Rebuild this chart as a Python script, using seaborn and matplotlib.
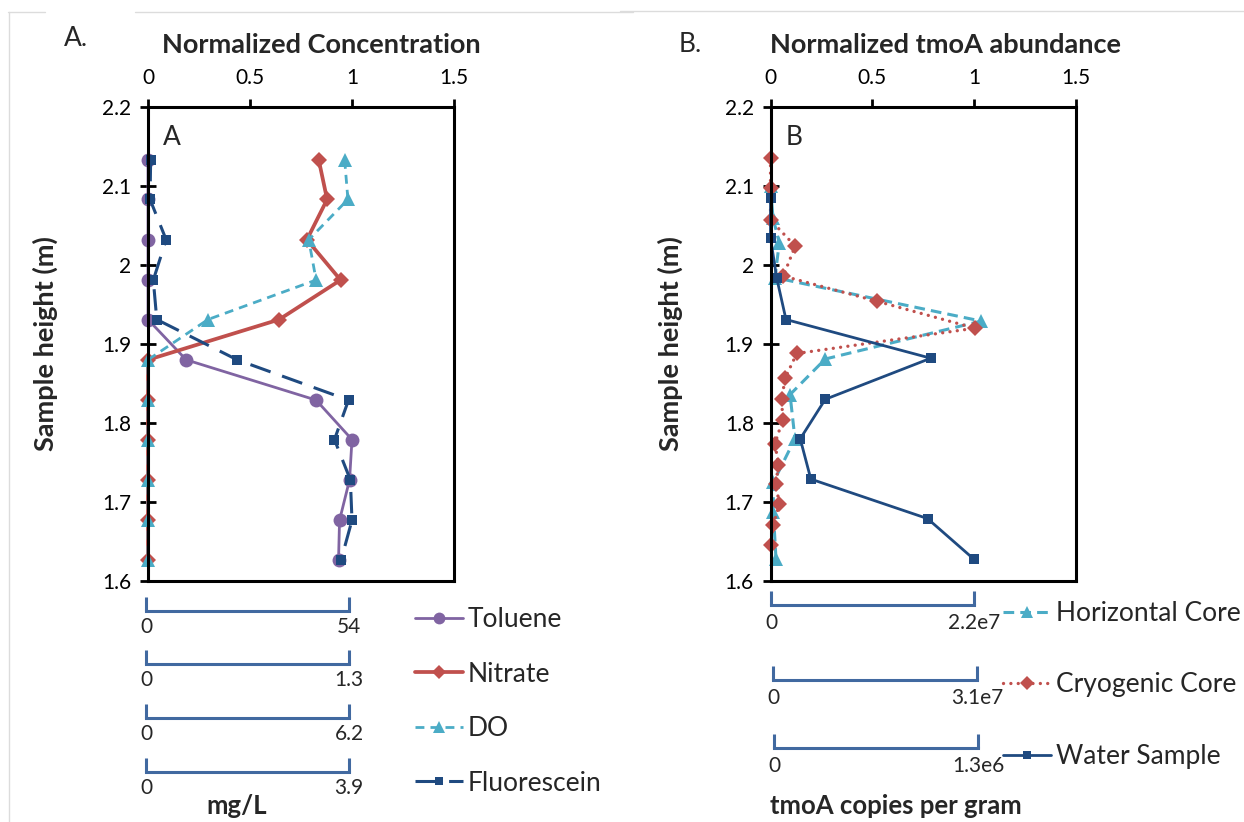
import matplotlib
matplotlib.use("Agg")
import matplotlib.pyplot as plt
import seaborn as sns
from matplotlib.lines import Line2D

# ---- Panel A: normalized concentration profiles ----
heights_a = [2.133, 2.083, 2.032, 1.981, 1.931, 1.880, 1.829, 1.779, 1.728, 1.677, 1.627]
toluene = [0.0, 0.0, 0.0, 0.0, 0.0, 0.187, 0.824, 1.0, 0.988, 0.939, 0.934]
nitrate = [0.837, 0.878, 0.779, 0.944, 0.643, 0.0, 0.0, 0.0, 0.0, 0.0, 0.0]
dissolved_oxygen = [0.964, 0.980, 0.788, 0.824, 0.294, 0.0, 0.0, 0.0, 0.0, 0.0, 0.0]
fluorescein = [0.013, 0.010, 0.089, 0.026, 0.043, 0.437, 0.983, 0.914, 0.992, 1.0, 0.947]

# ---- Panel B: normalized tmoA abundance ----
horizontal_h = [2.100, 2.060, 2.028, 1.984, 1.929, 1.881, 1.836, 1.780, 1.725, 1.687, 1.628]
horizontal_v = [0.0, 0.012, 0.043, 0.022, 1.034, 0.269, 0.096, 0.120, 0.014, 0.014, 0.027]
cryogenic_h = [2.135, 2.097, 2.057, 2.024, 1.986, 1.954, 1.920, 1.888, 1.857, 1.830,
               1.804, 1.774, 1.747, 1.723, 1.697, 1.671, 1.645]
cryogenic_v = [0.0, 0.0, 0.0, 0.121, 0.063, 0.524, 1.004, 0.129, 0.072, 0.055,
               0.060, 0.022, 0.039, 0.027, 0.043, 0.014, 0.0]
water_h = [2.085, 2.034, 1.983, 1.931, 1.882, 1.830, 1.780, 1.729, 1.679, 1.628]
water_v = [0.0, 0.0, 0.031, 0.076, 0.787, 0.269, 0.146, 0.198, 0.771, 0.997]

# axis ticks
x_ticks = [0, 0.5, 1, 1.5]
x_tick_labels = ["0", "0.5", "1", "1.5"]
y_ticks = [1.6, 1.7, 1.8, 1.9, 2.0, 2.1, 2.2]
y_tick_labels = ["1.6", "1.7", "1.8", "1.9", "2", "2.1", "2.2"]

# absolute scales behind the normalized axes
conc_scale_max = ["54", "1.3", "6.2", "3.9"]
copies_scale_max = ["2.2e7", "3.1e7", "1.3e6"]

W, H = 1244, 822
sns.set_style("ticks")
plt.rcParams["font.family"] = ["Lato", "DejaVu Sans"]

PURPLE = "#8064A2"
RED = "#C0504D"
CYAN = "#4BACC6"
NAVY = "#1F4A80"
SCALE_BLUE = "#4169A0"

TITLE_FS = 19.5
TICK_FS = 15
LEGEND_FS = 19

fig = plt.figure(figsize=(W / 100, H / 100), dpi=100)


def rect(left, top, right, bottom):
    return [left / W, 1 - bottom / H, (right - left) / W, (bottom - top) / H]


def ftext(x, y, s, **kw):
    kw.setdefault("va", "center")
    fig.text(x / W, 1 - y / H, s, **kw)


def style_profile(ax, label_x):
    ax.set_xlim(0, 1.5)
    ax.set_ylim(1.6, 2.2)
    ax.set_xticks(x_ticks)
    ax.set_xticklabels(x_tick_labels)
    ax.set_yticks(y_ticks)
    ax.set_yticklabels(y_tick_labels)
    ax.xaxis.tick_top()
    ax.tick_params(axis="x", direction="out", length=6, width=2, pad=8,
                   labelsize=TICK_FS, top=True, bottom=False, colors="black")
    ax.tick_params(axis="y", direction="inout", length=12, width=2, pad=6,
                   labelsize=TICK_FS, colors="black")
    for sp in ax.spines.values():
        sp.set_visible(True)
        sp.set_linewidth(2.2)
        sp.set_color("black")
    ax.set_xlabel("")
    ax.set_ylabel("Sample height (m)", fontsize=TITLE_FS, fontweight="bold")
    ax.yaxis.set_label_coords(label_x, 0.5)


def profile(ax, x, y, label, color, marker, ms, lw, ls, **extra):
    sns.lineplot(x=x, y=y, ax=ax, sort=False, estimator=None, color=color,
                 marker=marker, markersize=ms, linewidth=lw, linestyle=ls,
                 markeredgecolor=color, markeredgewidth=0, label=label,
                 legend=False, clip_on=False, **extra)


def scale_bar(left, right, line_y, label, pad):
    ax = fig.add_axes(rect(left, line_y - 20, right, line_y))
    ax.set_xlim(0, 1)
    ax.set_ylim(0, 1)
    for name, sp in ax.spines.items():
        sp.set_visible(name == "bottom")
    ax.spines["bottom"].set_color(SCALE_BLUE)
    ax.spines["bottom"].set_linewidth(2.2)
    ax.set_yticks([])
    ax.set_xticks([0, 1])
    ax.set_xticklabels(["0", label])
    ax.tick_params(axis="x", direction="in", length=10, width=2.2,
                   color=SCALE_BLUE, pad=pad, labelsize=TICK_FS)
    ax.patch.set_alpha(0)


# ---------------- Panel A ----------------
ax_a = fig.add_axes(rect(148, 107, 454, 581))
profile(ax_a, toluene, heights_a, "Toluene", PURPLE, "o", 10, 2.0, "-")
profile(ax_a, nitrate, heights_a, "Nitrate", RED, "D", 8.5, 2.7, "-")
profile(ax_a, dissolved_oxygen, heights_a, "DO", CYAN, "^", 10, 2.0, (0, (3.2, 2.2)))
profile(ax_a, fluorescein, heights_a, "Fluorescein", NAVY, "s", 7.5, 2.2, (0, (7, 4)))
style_profile(ax_a, -0.294)
ax_a.text(0.05, 0.935, "A", transform=ax_a.transAxes, fontsize=LEGEND_FS, va="center")

# ---------------- Panel B ----------------
ax_b = fig.add_axes(rect(770.5, 107, 1076, 581))
profile(ax_b, horizontal_v, horizontal_h, "Horizontal Core", CYAN, "^", 10, 2.2, (0, (3.5, 2)))
profile(ax_b, cryogenic_v, cryogenic_h, "Cryogenic Core", RED, "D", 8.5, 2.4, (0, (0.01, 2.2)),
        dash_capstyle="round")
profile(ax_b, water_v, water_h, "Water Sample", NAVY, "s", 7.5, 2.0, "-")
style_profile(ax_b, -0.286)
ax_b.text(0.05, 0.935, "B", transform=ax_b.transAxes, fontsize=LEGEND_FS, va="center")

# titles and panel tags
ftext(321, 45, "Normalized Concentration", fontsize=TITLE_FS, fontweight="bold", ha="center")
ftext(945, 45, "Normalized tmoA abundance", fontsize=TITLE_FS, fontweight="bold", ha="center")
ftext(64, 38, "A.", fontsize=LEGEND_FS, ha="left")
ftext(679, 45, "B.", fontsize=LEGEND_FS, ha="left")

# absolute concentration scales
for ly, lab in zip([611, 664, 718, 772], conc_scale_max):
    scale_bar(146, 349, ly, lab, 4)
ftext(237, 806, "mg/L", fontsize=18.5, fontweight="bold", ha="center")

# absolute copy-number scales
for (l, r, ly), lab in zip([(771, 974, 605), (773, 977, 680), (774, 978, 748)], copies_scale_max):
    scale_bar(l, r, ly, lab, 6)
ftext(896, 806, "tmoA copies per gram", fontsize=18.5, fontweight="bold", ha="center")

# legends
h_a, l_a = ax_a.get_legend_handles_labels()
fig.legend(h_a, l_a, loc="upper left", bbox_to_anchor=(415 / W, 1 - 607 / H),
           frameon=False, fontsize=LEGEND_FS, handlelength=1.82, handletextpad=0.19,
           labelspacing=1.12, borderpad=0, borderaxespad=0, markerscale=0.85)
h_b, l_b = ax_b.get_legend_handles_labels()
fig.legend(h_b, l_b, loc="upper left", bbox_to_anchor=(1003 / W, 1 - 601 / H),
           frameon=False, fontsize=LEGEND_FS, handlelength=1.82, handletextpad=0.19,
           labelspacing=1.76, borderpad=0, borderaxespad=0, markerscale=0.85)

# faint frame edges along the top and left
for xs, ys in [((8, 45), (12, 12)), ((135, 633), (12, 12)), ((620, 1244), (11, 11)),
               ((9, 9), (12, 822))]:
    fig.add_artist(Line2D([x / W for x in xs], [1 - y / H for y in ys],
                          color="#dcdcdc", linewidth=1))

fig.savefig("out.png", dpi=100)
